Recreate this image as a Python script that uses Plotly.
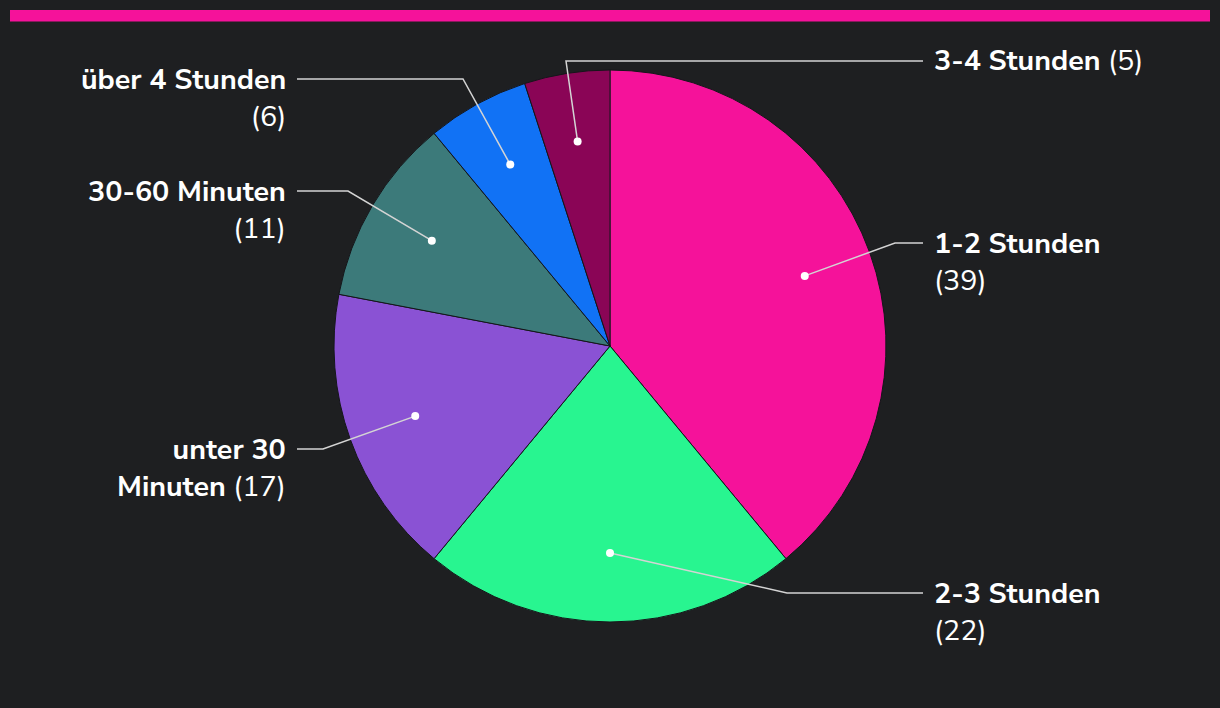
import math
import plotly.graph_objects as go

# ---- data ----
categories = ["1-2 Stunden", "2-3 Stunden", "unter 30 Minuten", "30-60 Minuten", "über 4 Stunden", "3-4 Stunden"]
values = [39, 22, 17, 11, 6, 5]
colors = ["#f5129a", "#28f590", "#8a52d4", "#3c7a7a", "#1172f5", "#8a0556"]

# label text lines (name split for wrapping)
name_lines = [["1-2 Stunden"], ["2-3 Stunden"], ["unter 30", "Minuten"], ["30-60 Minuten"], ["über 4 Stunden"], ["3-4 Stunden"]]
value_inline = [False, False, True, False, False, True]

# ---- layout (pixels) ----
W, H = 1220, 708
CX, CY, R = 610, 346, 276
BG = "#1e1f21"
FS = 28.7
LH = FS * 1.3
label_side = [1, 1, -1, -1, -1, 1]
label_y = [243, 593, 449, 191, 79, 61]
elbow_x = [895, 787, 323, 348, 463, 566]
line_end_right, line_end_left = 923, 297
text_right, text_left = 932, 288

fig = go.Figure()
fig.add_trace(go.Pie(
    labels=categories, values=values, sort=False, direction="clockwise", rotation=0,
    marker=dict(colors=colors, line=dict(color="#15161a", width=1)),
    textinfo="none", hoverinfo="label+value", showlegend=False,
    domain=dict(x=[(CX - R) / W, (CX + R) / W], y=[(H - CY - R) / H, (H - CY + R) / H]),
))

def px(x):
    return x / W

def py(y):
    return 1 - y / H

shapes = [dict(type="rect", xref="paper", yref="paper", x0=px(10), x1=px(1210), y0=py(10), y1=py(21.5),
               fillcolor="#f5129a", line=dict(width=0), layer="above")]
annotations = []
total = sum(values)
cum = 0
for i, v in enumerate(values):
    mid = (cum + v / 2) / total * 2 * math.pi
    cum += v
    dx = CX + 0.75 * R * math.sin(mid)
    dy = CY - 0.75 * R * math.cos(mid)
    side = label_side[i]
    ex = elbow_x[i]
    ey = label_y[i]
    endx = line_end_right if side > 0 else line_end_left
    path = f"M {px(dx)},{py(dy)} L {px(ex)},{py(ey)} L {px(endx)},{py(ey)}"
    shapes.append(dict(type="path", xref="paper", yref="paper", path=path,
                       line=dict(color="#d4d4d4", width=1.5), layer="above"))
    r = 4
    shapes.append(dict(type="circle", xref="paper", yref="paper",
                       x0=px(dx - r), x1=px(dx + r), y0=py(dy + r), y1=py(dy - r),
                       fillcolor="white", line=dict(width=0), layer="above"))
    lines = [f"<b>{t}</b>" for t in name_lines[i]]
    if value_inline[i]:
        lines[-1] += f" ({v})"
    else:
        lines.append(f"({v})")
    n = len(lines)
    annotations.append(dict(
        xref="paper", yref="paper", x=px(text_right if side > 0 else text_left),
        y=py(ey + (n - 1) * LH / 2),
        xanchor="left" if side > 0 else "right", yanchor="middle",
        align="left" if side > 0 else "right",
        text="<br>".join(lines), showarrow=False,
        font=dict(family="Nunito Sans, Lato, sans-serif", size=FS, color="white"),
    ))

fig.update_layout(
    width=W, height=H, margin=dict(l=0, r=0, t=0, b=0),
    paper_bgcolor=BG, plot_bgcolor=BG,
    shapes=shapes, annotations=annotations,
)
fig.write_html("out.html")
